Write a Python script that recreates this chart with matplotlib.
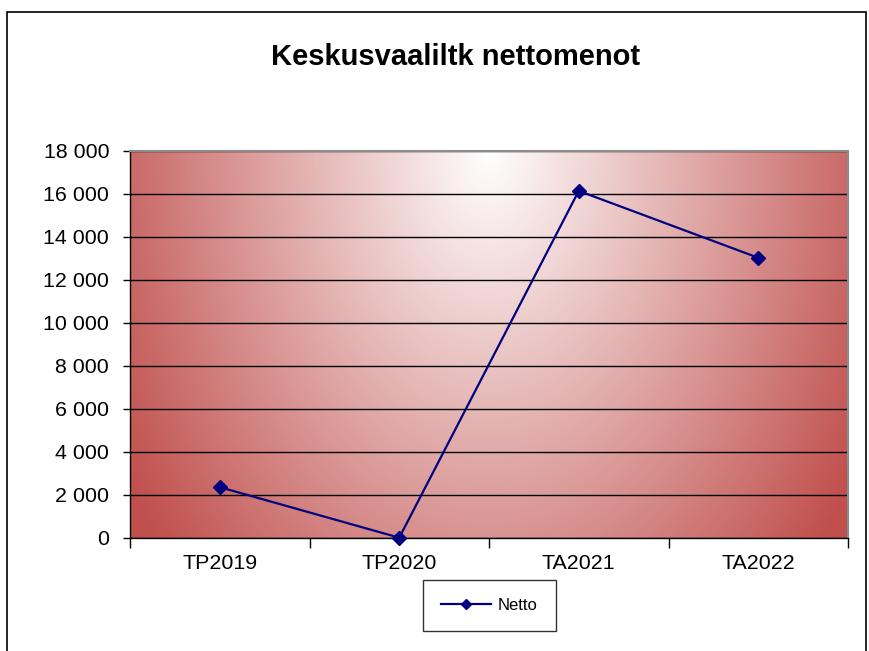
import numpy as np
import matplotlib
matplotlib.use("Agg")
import matplotlib.pyplot as plt
from matplotlib.patches import Rectangle
from matplotlib.ticker import FuncFormatter, FixedLocator

plt.rcParams["font.family"] = ["Liberation Sans", "DejaVu Sans"]

# chart data
categories = ["TP2019", "TP2020", "TA2021", "TA2022"]
netto = [2350, 0, 16130, 13020]
y_ticks = [0, 2000, 4000, 6000, 8000, 10000, 12000, 14000, 16000, 18000]

W, H = 869, 651
fig = plt.figure(figsize=(W / 100, H / 100), dpi=100)

# outer chart frame
fig.patches.append(Rectangle((7 / W, -0.02), (866 - 7) / W, (651 - 12) / H + 0.02,
                             transform=fig.transFigure, fill=False,
                             edgecolor="black", linewidth=1.2))

left, right, top, bottom = 130, 848, 150.7, 537.7
ax = fig.add_axes([left / W, 1 - bottom / H, (right - left) / W, (bottom - top) / H])

# radial gradient background (white near top centre -> dark red at edges)
ny, nx = 300, 500
gx = np.linspace(0, 1, nx)
gy = np.linspace(1, 0, ny)  # row 0 = top
X, Y = np.meshgrid(gx, gy)
cx, cy = 0.5, 1.0
r = np.sqrt(((X - cx) / 0.59) ** 2 + ((Y - cy) / 1.63) ** 2)
t = np.clip(r, 0, 1)
white = np.array([1.0, 1.0, 1.0])
red = np.array([0xC0, 0x50, 0x4D]) / 255
img = white[None, None, :] * (1 - t[..., None]) + red[None, None, :] * t[..., None]
ax.imshow(img, extent=[0, 1, 0, 1], transform=ax.transAxes, aspect="auto",
          zorder=0, interpolation="bilinear")

x = np.arange(len(categories))
ax.plot(x, netto, color="#000080", linewidth=1.6, marker="D", markersize=7,
        markeredgewidth=1, label="Netto", zorder=3, clip_on=False)

ax.set_xlim(-0.5, len(categories) - 0.5)
ax.set_ylim(0, 18000)

ax.set_yticks(y_ticks)
ax.yaxis.set_major_formatter(FuncFormatter(lambda v, p: f"{int(v):,}".replace(",", " ")))
ax.yaxis.grid(True, color="black", linewidth=1.0, zorder=1)
ax.set_axisbelow(True)

ax.set_xticks(x)
ax.set_xticklabels(categories)
ax.xaxis.set_minor_locator(FixedLocator(np.arange(-0.5, len(categories), 1.0)))
ax.tick_params(axis="x", which="major", length=0, pad=12, labelsize=15.4, colors="black")
ax.tick_params(axis="x", which="minor", length=7, width=1, direction="out")
ax.tick_params(axis="y", length=5, width=1, pad=10, labelsize=15.4, colors="black")

for s in ["top", "right"]:
    ax.spines[s].set_color("#8c8c8c")
    ax.spines[s].set_linewidth(1.5)
for s in ["left", "bottom"]:
    ax.spines[s].set_color("black")
    ax.spines[s].set_linewidth(1.0)

fig.text(456 / W, 1 - 57 / H, "Keskusvaaliltk nettomenot", ha="center", va="center",
         fontsize=21, fontweight="bold")

leg = fig.legend(loc="center", bbox_to_anchor=(489.5 / W, 1 - 605.5 / H),
                 fontsize=12, frameon=True, fancybox=False, handlelength=3.0,
                 borderpad=1.1, handletextpad=0.4, borderaxespad=0)
leg.get_frame().set_edgecolor("black")
leg.get_frame().set_linewidth(1.0)
for h in leg.legend_handles:
    h.set_markersize(5)

fig.savefig("out.png", dpi=100)
